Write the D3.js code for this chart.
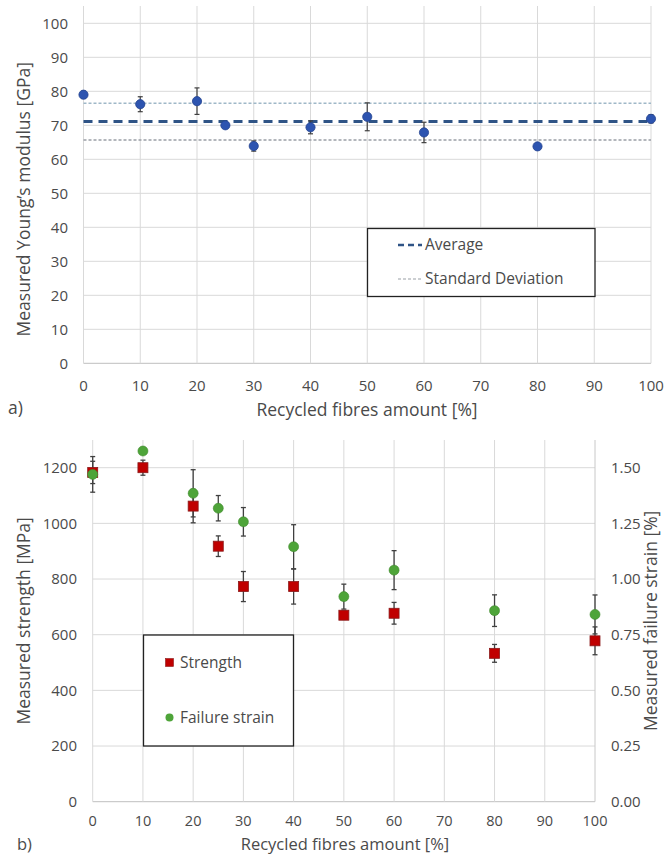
<!DOCTYPE html>
<html><head><meta charset="utf-8">
<script src="https://cdn.jsdelivr.net/npm/d3@7"></script>
<style>
body{margin:0;background:#fff;}
svg{display:block;}
text{font-family:"Open Sans",Lato,sans-serif;fill:#4a4a4a;}
</style></head>
<body><svg id="c" width="666" height="856"></svg>
<script>
// ---- Data: chart a) Young's modulus ----
const modX = [0, 10, 20, 25, 30, 40, 50, 60, 80, 100];
const modVal = [79.0, 76.2, 77.1, 70.0, 63.9, 69.4, 72.5, 67.9, 63.8, 71.9];
const modErr = [1.0, 2.2, 3.9, 0.8, 1.5, 1.9, 4.1, 3.0, 0.5, 1.2];
const modAvg = 71.1;
const modSdUpper = 76.5;
const modSdLower = 65.7;
const modYTicks = [0, 10, 20, 30, 40, 50, 60, 70, 80, 90, 100];
const xTicks = [0, 10, 20, 30, 40, 50, 60, 70, 80, 90, 100];

// ---- Data: chart b) strength & failure strain ----
const strX = [0, 10, 20, 25, 30, 40, 50, 60, 80, 100];
const strength = [1183, 1200, 1062, 918, 773, 773, 670, 677, 533, 578];
const strengthErr = [40, 27, 60, 37, 54, 63, 15, 39, 32, 50];
const strain = [1.47, 1.575, 1.385, 1.318, 1.257, 1.145, 0.921, 1.04, 0.858, 0.841];
const strainErr = [0.08, 0.0, 0.106, 0.057, 0.064, 0.099, 0.056, 0.0875, 0.071, 0.0875];
const strYTicks = [0, 200, 400, 600, 800, 1000, 1200];
const strainTicks = [0, 0.25, 0.5, 0.75, 1.0, 1.25, 1.5];

const svg = d3.select("#c");
const gridC = "#d9d9d9";
const TICK = 15, TITLE = 17.5, LEG = 15.5;

// ================= Chart a =================
{
  const x = d3.scaleLinear().domain([0, 100]).range([83.5, 651]);
  const y = d3.scaleLinear().domain([0, 100]).range([363.3, 23.3]);
  const top = 6;
  const g = svg.append("g");
  g.selectAll(".hg").data(modYTicks).join("line")
    .attr("x1", x(0)).attr("x2", x(100)).attr("y1", d => y(d)).attr("y2", d => y(d))
    .attr("stroke", d => d === 0 ? "#bfbfbf" : gridC).attr("stroke-width", 1);
  g.selectAll(".vg").data(xTicks).join("line")
    .attr("x1", d => x(d)).attr("x2", d => x(d)).attr("y1", top).attr("y2", y(0))
    .attr("stroke", gridC).attr("stroke-width", 1);
  g.selectAll(".yt").data(modYTicks).join("text")
    .attr("x", 68).attr("y", d => y(d)).attr("dy", "0.35em").attr("text-anchor", "end")
    .attr("font-size", TICK).text(d => d);
  g.selectAll(".xt").data(xTicks).join("text")
    .attr("x", d => x(d)).attr("y", 386).attr("dy", "0.35em").attr("text-anchor", "middle")
    .attr("font-size", TICK).text(d => d);
  g.append("line").attr("x1", x(0)).attr("x2", x(100)).attr("y1", y(modSdUpper)).attr("y2", y(modSdUpper))
    .attr("stroke", "#9fb8c8").attr("stroke-width", 1.5).attr("stroke-dasharray", "3,2");
  g.append("line").attr("x1", x(0)).attr("x2", x(100)).attr("y1", y(modSdLower)).attr("y2", y(modSdLower))
    .attr("stroke", "#9a9fa6").attr("stroke-width", 1.5).attr("stroke-dasharray", "3,2");
  g.append("line").attr("x1", x(0)).attr("x2", x(100)).attr("y1", y(modAvg)).attr("y2", y(modAvg))
    .attr("stroke", "#2f5486").attr("stroke-width", 3).attr("stroke-dasharray", "9,6");
  const eb = g.selectAll(".eb").data(modX.map((d, i) => ({x: d, v: modVal[i], e: modErr[i]}))).join("g");
  eb.append("line").attr("x1", d => x(d.x)).attr("x2", d => x(d.x))
    .attr("y1", d => y(d.v + d.e)).attr("y2", d => y(d.v - d.e)).attr("stroke", "#404040").attr("stroke-width", 1.2);
  eb.append("line").attr("x1", d => x(d.x) - 2.5).attr("x2", d => x(d.x) + 2.5)
    .attr("y1", d => y(d.v + d.e)).attr("y2", d => y(d.v + d.e)).attr("stroke", "#404040").attr("stroke-width", 1.2);
  eb.append("line").attr("x1", d => x(d.x) - 2.5).attr("x2", d => x(d.x) + 2.5)
    .attr("y1", d => y(d.v - d.e)).attr("y2", d => y(d.v - d.e)).attr("stroke", "#404040").attr("stroke-width", 1.2);
  g.selectAll(".pt").data(modX.map((d, i) => ({x: d, v: modVal[i]}))).join("circle")
    .attr("cx", d => x(d.x)).attr("cy", d => y(d.v)).attr("r", 4.6)
    .attr("fill", "#2d54b0").attr("stroke", "#23438f").attr("stroke-width", 0.8);
  g.append("text").attr("transform", `translate(30,${(y(0) + y(100)) / 2 + 6}) rotate(-90)`)
    .attr("text-anchor", "middle").attr("font-size", TITLE).text("Measured Young\u2019s modulus [GPa]");
  g.append("text").attr("x", 367).attr("y", 416).attr("text-anchor", "middle").attr("font-size", TITLE)
    .text("Recycled fibres amount [%]");
  g.append("text").attr("x", 8).attr("y", 414).attr("font-size", TITLE).attr("fill", "#222").text("a)");
  const lg = g.append("g");
  lg.append("rect").attr("x", 367.5).attr("y", 228.5).attr("width", 227.5).attr("height", 68)
    .attr("fill", "#fff").attr("stroke", "#222").attr("stroke-width", 1.3);
  lg.append("line").attr("x1", 398).attr("x2", 422).attr("y1", 245).attr("y2", 245)
    .attr("stroke", "#2f5486").attr("stroke-width", 2.5).attr("stroke-dasharray", "6,4");
  lg.append("text").attr("x", 425).attr("y", 245).attr("dy", "0.35em").attr("font-size", LEG).text("Average");
  lg.append("line").attr("x1", 398).attr("x2", 422).attr("y1", 279).attr("y2", 279)
    .attr("stroke", "#9a9fa6").attr("stroke-width", 1.2).attr("stroke-dasharray", "3,2");
  lg.append("text").attr("x", 425).attr("y", 279).attr("dy", "0.35em").attr("font-size", LEG).text("Standard Deviation");
}

// ================= Chart b =================
{
  const x = d3.scaleLinear().domain([0, 100]).range([92.7, 595]);
  const y = d3.scaleLinear().domain([0, 1200]).range([801.7, 467.7]);
  const y2 = d3.scaleLinear().domain([0, 1.5]).range([801.7, 467.7]);
  const top = 440;
  const g = svg.append("g");
  g.selectAll(".hg").data(strYTicks).join("line")
    .attr("x1", x(0)).attr("x2", x(100)).attr("y1", d => y(d)).attr("y2", d => y(d))
    .attr("stroke", d => d === 0 ? "#bfbfbf" : gridC).attr("stroke-width", 1);
  g.selectAll(".vg").data(xTicks).join("line")
    .attr("x1", d => x(d)).attr("x2", d => x(d)).attr("y1", top).attr("y2", y(0))
    .attr("stroke", d => d === 100 ? "#c8c8c8" : gridC).attr("stroke-width", 1);
  g.selectAll(".yt").data(strYTicks).join("text")
    .attr("x", 77).attr("y", d => y(d)).attr("dy", "0.35em").attr("text-anchor", "end")
    .attr("font-size", TICK).text(d => d);
  g.selectAll(".y2t").data(strainTicks).join("text")
    .attr("x", 611).attr("y", d => y2(d)).attr("dy", "0.35em").attr("text-anchor", "start")
    .attr("font-size", TICK).text(d => d3.format(".2f")(d));
  g.selectAll(".xt").data(xTicks).join("text")
    .attr("x", d => x(d)).attr("y", 821).attr("dy", "0.35em").attr("text-anchor", "middle")
    .attr("font-size", 14.5).text(d => d);

  function errBars(data, sc, color) {
    const eb = g.selectAll(null).data(data.filter(d => d.e > 0)).join("g");
    eb.append("line").attr("x1", d => x(d.x)).attr("x2", d => x(d.x))
      .attr("y1", d => sc(d.v + d.e)).attr("y2", d => sc(d.v - d.e)).attr("stroke", color).attr("stroke-width", 1.3);
    [1, -1].forEach(s => eb.append("line").attr("x1", d => x(d.x) - 2.5).attr("x2", d => x(d.x) + 2.5)
      .attr("y1", d => sc(d.v + s * d.e)).attr("y2", d => sc(d.v + s * d.e)).attr("stroke", color).attr("stroke-width", 1.3));
  }
  const sData = strX.map((d, i) => ({x: d, v: strength[i], e: strengthErr[i]}));
  const fData = strX.map((d, i) => ({x: d, v: strain[i], e: strainErr[i]}));
  errBars(sData, y, "#404040");
  errBars(fData, y2, "#404040");
  g.selectAll(".sq").data(sData).join("rect")
    .attr("x", d => x(d.x) - 5).attr("y", d => y(d.v) - 5).attr("width", 10).attr("height", 10)
    .attr("fill", "#c00000").attr("stroke", "#8a1a1a").attr("stroke-width", 0.8);
  g.selectAll(".ci").data(fData).join("circle")
    .attr("cx", d => x(d.x)).attr("cy", d => y2(d.v)).attr("r", 5)
    .attr("fill", "#4ea439").attr("stroke", "#3f8a2e").attr("stroke-width", 0.6);

  g.append("text").attr("transform", `translate(30,${(y(0) + 440) / 2}) rotate(-90)`)
    .attr("text-anchor", "middle").attr("font-size", TITLE).text("Measured strength [MPa]");
  g.append("text").attr("transform", `translate(657,${(y(0) + 440) / 2}) rotate(-90)`)
    .attr("text-anchor", "middle").attr("font-size", TITLE).text("Measured failure strain [%]");
  g.append("text").attr("x", 345).attr("y", 850).attr("text-anchor", "middle").attr("font-size", 16.5)
    .text("Recycled fibres amount [%]");
  g.append("text").attr("x", 17).attr("y", 850).attr("font-size", 16.5).attr("fill", "#222").text("b)");

  const lg = g.append("g");
  lg.append("rect").attr("x", 143.5).attr("y", 635).attr("width", 150).attr("height", 111)
    .attr("fill", "#fff").attr("stroke", "#222").attr("stroke-width", 1.3);
  lg.append("rect").attr("x", 165.5).attr("y", 658.5).attr("width", 8).attr("height", 8)
    .attr("fill", "#c00000").attr("stroke", "#8a1a1a").attr("stroke-width", 0.6);
  lg.append("text").attr("x", 180).attr("y", 662.5).attr("dy", "0.35em").attr("font-size", LEG).text("Strength");
  lg.append("circle").attr("cx", 169.5).attr("cy", 717.5).attr("r", 4)
    .attr("fill", "#4ea439");
  lg.append("text").attr("x", 180).attr("y", 717.5).attr("dy", "0.35em").attr("font-size", LEG).text("Failure strain");
}
</script></body></html>
